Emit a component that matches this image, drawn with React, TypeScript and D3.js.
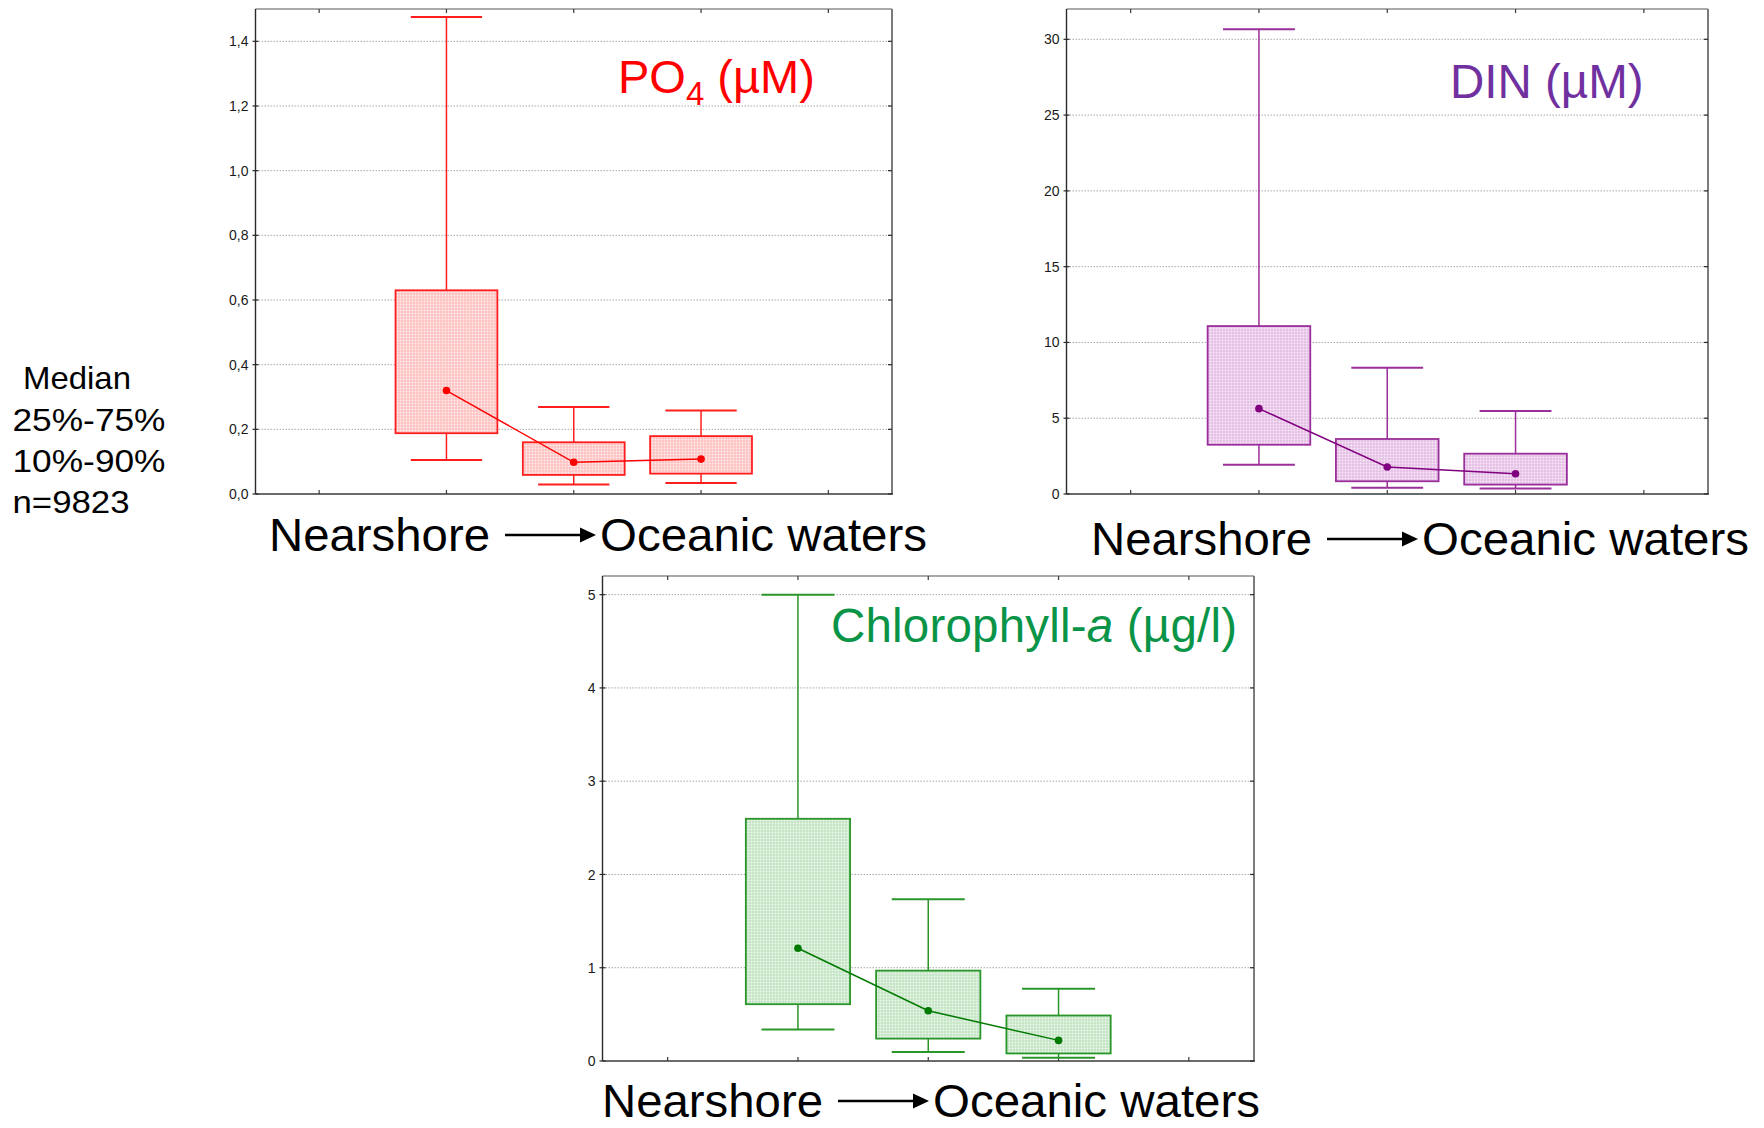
import React from "react";
import * as d3 from "d3";

// Three sampling zones along the nearshore → oceanic gradient
const zones = ["nearshore", "transition", "oceanic"];

// PO4 (µM): 10th, 25th, 50th, 75th, 90th percentiles per zone
const po4P10 = [0.105, 0.029, 0.034];
const po4Q1 = [0.188, 0.059, 0.063];
const po4Median = [0.32, 0.098, 0.108];
const po4Q3 = [0.63, 0.16, 0.179];
const po4P90 = [1.475, 0.269, 0.258];
const po4Ticks = [0, 0.2, 0.4, 0.6, 0.8, 1.0, 1.2, 1.4];

// DIN (µM)
const dinP10 = [1.93, 0.42, 0.37];
const dinQ1 = [3.25, 0.84, 0.62];
const dinMedian = [5.63, 1.78, 1.34];
const dinQ3 = [11.08, 3.63, 2.66];
const dinP90 = [30.66, 8.33, 5.47];
const dinTicks = [0, 5, 10, 15, 20, 25, 30];

// Chlorophyll-a (µg/l)
const chlP10 = [0.337, 0.097, 0.035];
const chlQ1 = [0.609, 0.24, 0.081];
const chlMedian = [1.209, 0.539, 0.221];
const chlQ3 = [2.597, 0.969, 0.488];
const chlP90 = [5.0, 1.733, 0.775];
const chlTicks = [0, 1, 2, 3, 4, 5];

const legendLines = ["Median", "25%-75%", "10%-90%", "n=9823"];
const gradientFrom = "Nearshore";
const gradientTo = "Oceanic waters";

const FONT = "'Liberation Sans', Arial, sans-serif";

const commaLocale = d3.formatLocale({
  decimal: ",",
  thousands: ".",
  grouping: [3],
  currency: ["", ""],
});
const fmtComma1 = commaLocale.format(".1f");
const fmtInt = d3.format("d");

type Frame = { left: number; right: number; top: number; bottom: number };

type PanelProps = {
  id: string;
  frame: Frame;
  yMax: number;
  ticks: number[];
  tickFormat: (v: number) => string;
  p10: number[];
  q1: number[];
  med: number[];
  q3: number[];
  p90: number[];
  stroke: string;
  fillBase: string;
  dotColor: string;
  title: React.ReactNode;
  labelX: number;
  labelY: number;
};

function Panel(props: PanelProps) {
  const { id, frame, yMax, ticks, tickFormat, p10, q1, med, q3, p90, stroke, fillBase, dotColor, title, labelX, labelY } = props;
  const x = d3.scalePoint<string>().domain(zones).range([frame.left, frame.right]).padding(1.5);
  const y = d3.scaleLinear().domain([0, yMax]).range([frame.bottom, frame.top]);
  const step = x.step();
  const tickXs = [
    (x(zones[0]) as number) - step,
    ...zones.map((z) => x(z) as number),
    (x(zones[zones.length - 1]) as number) + step,
  ];
  const boxW = step * 0.8;
  const capW = step * 0.56;
  const medianLine = d3
    .line<number>()
    .x((_, i) => x(zones[i]) as number)
    .y((d) => y(d));
  const patId = `dots-${id}`;
  const arrowY = labelY - 16;

  return (
    <g>
      <defs>
        <pattern id={patId} width={3} height={3} patternUnits="userSpaceOnUse">
          <rect width={3} height={3} fill={fillBase} />
          <circle cx={1.5} cy={1.5} r={0.95} fill="#ffffff" opacity={0.7} />
        </pattern>
      </defs>

      {/* grid */}
      {ticks
        .filter((t) => t > 0)
        .map((t) => (
          <line
            key={`g${t}`}
            x1={frame.left}
            x2={frame.right}
            y1={y(t)}
            y2={y(t)}
            stroke="#a8a8a8"
            strokeWidth={1}
            strokeDasharray="1.5 1.5"
          />
        ))}

      {/* frame */}
      <line x1={frame.left} x2={frame.right} y1={frame.top} y2={frame.top} stroke="#8e8e8e" strokeWidth={1.5} />
      <line x1={frame.right} x2={frame.right} y1={frame.top} y2={frame.bottom} stroke="#7c7c7c" strokeWidth={2} />
      <line x1={frame.left} x2={frame.left} y1={frame.top} y2={frame.bottom} stroke="#2a2a2a" strokeWidth={1.4} />
      <line x1={frame.left} x2={frame.right + 1} y1={frame.bottom} y2={frame.bottom} stroke="#3a3a3a" strokeWidth={1.6} />

      {/* y ticks and labels */}
      {ticks.map((t) => (
        <g key={`t${t}`}>
          <line x1={frame.left - 3} x2={frame.left + 3} y1={y(t)} y2={y(t)} stroke="#2a2a2a" strokeWidth={1.2} />
          <line x1={frame.right - 4} x2={frame.right} y1={y(t)} y2={y(t)} stroke="#2a2a2a" strokeWidth={1.2} />
          <text
            x={frame.left - 7}
            y={y(t)}
            dy="0.36em"
            textAnchor="end"
            fontFamily={FONT}
            fontSize={14}
            fill="#1a1a1a"
          >
            {tickFormat(t)}
          </text>
        </g>
      ))}

      {/* x ticks (top and bottom, inward) */}
      {tickXs.map((tx, i) => (
        <g key={`x${i}`}>
          <line x1={tx} x2={tx} y1={frame.bottom} y2={frame.bottom - 4} stroke="#3a3a3a" strokeWidth={1.2} />
          <line x1={tx} x2={tx} y1={frame.top} y2={frame.top + 4} stroke="#3a3a3a" strokeWidth={1.2} />
        </g>
      ))}

      {/* boxes and whiskers */}
      {zones.map((z, i) => {
        const cx = x(z) as number;
        return (
          <g key={z}>
            <line x1={cx} x2={cx} y1={y(q3[i])} y2={y(p90[i])} stroke={stroke} strokeWidth={1.5} />
            <line x1={cx} x2={cx} y1={y(q1[i])} y2={y(p10[i])} stroke={stroke} strokeWidth={1.5} />
            <line x1={cx - capW / 2} x2={cx + capW / 2} y1={y(p90[i])} y2={y(p90[i])} stroke={stroke} strokeWidth={2} />
            <line x1={cx - capW / 2} x2={cx + capW / 2} y1={y(p10[i])} y2={y(p10[i])} stroke={stroke} strokeWidth={2} />
            <rect
              x={cx - boxW / 2}
              y={y(q3[i])}
              width={boxW}
              height={y(q1[i]) - y(q3[i])}
              fill={`url(#${patId})`}
              stroke={stroke}
              strokeWidth={1.8}
            />
          </g>
        );
      })}

      {/* medians */}
      <path d={medianLine(med) || ""} fill="none" stroke={dotColor} strokeWidth={1.5} />
      {zones.map((z, i) => (
        <circle key={`m${z}`} cx={x(z) as number} cy={y(med[i])} r={3.8} fill={dotColor} />
      ))}

      {title}

      {/* gradient label */}
      <g fontFamily={FONT} fontSize={46.5} fill="#000">
        <text x={labelX} y={labelY} textLength={221} lengthAdjust="spacingAndGlyphs">
          {gradientFrom}
        </text>
        <line x1={labelX + 236} x2={labelX + 314} y1={arrowY} y2={arrowY} stroke="#000" strokeWidth={2.4} />
        <polygon
          points={`${labelX + 311},${arrowY - 7.5} ${labelX + 327},${arrowY} ${labelX + 311},${arrowY + 7.5}`}
          fill="#000"
        />
        <text x={labelX + 331} y={labelY} textLength={327} lengthAdjust="spacingAndGlyphs">
          {gradientTo}
        </text>
      </g>
    </g>
  );
}

export default function App() {
  const legendBaselines = [389, 431, 472, 513];
  const legendWidths = [108, 153, 153, 117];
  const legendX = [23, 12.5, 12.5, 12.5];

  return (
    <div style={{ position: "absolute", left: 0, top: 0 }}>
      <svg width={1764} height={1128} style={{ display: "block", background: "#fff" }}>
        <rect width={1764} height={1128} fill="#fff" />

        <Panel
          id="po4"
          frame={{ left: 255.5, right: 892, top: 9, bottom: 494 }}
          yMax={1.5}
          ticks={po4Ticks}
          tickFormat={fmtComma1}
          p10={po4P10}
          q1={po4Q1}
          med={po4Median}
          q3={po4Q3}
          p90={po4P90}
          stroke="#ff1e1e"
          fillBase="#ffc2c2"
          dotColor="#ff0000"
          labelX={269}
          labelY={551}
          title={
            <text x={618} y={93} fontFamily={FONT} fontSize={47} fill="#ff0000">
              PO
              <tspan dy={12} fontSize={33}>
                4
              </tspan>
              <tspan dy={-12}> (µM)</tspan>
            </text>
          }
        />

        <Panel
          id="din"
          frame={{ left: 1066.5, right: 1708, top: 9, bottom: 494 }}
          yMax={32}
          ticks={dinTicks}
          tickFormat={fmtInt}
          p10={dinP10}
          q1={dinQ1}
          med={dinMedian}
          q3={dinQ3}
          p90={dinP90}
          stroke="#9a2e9a"
          fillBase="#e6bfe6"
          dotColor="#800080"
          labelX={1091}
          labelY={555}
          title={
            <text x={1450} y={97.5} fontFamily={FONT} fontSize={47.5} fill="#7030a0">
              DIN (µM)
            </text>
          }
        />

        <Panel
          id="chl"
          frame={{ left: 602.5, right: 1254, top: 576, bottom: 1061 }}
          yMax={5.2}
          ticks={chlTicks}
          tickFormat={fmtInt}
          p10={chlP10}
          q1={chlQ1}
          med={chlMedian}
          q3={chlQ3}
          p90={chlP90}
          stroke="#2a962a"
          fillBase="#c4e4c4"
          dotColor="#007a00"
          labelX={602}
          labelY={1117}
          title={
            <text x={831} y={642} fontFamily={FONT} fontSize={47.5} fill="#0a9447" textLength={406}>
              Chlorophyll-<tspan fontStyle="italic">a</tspan> (µg/l)
            </text>
          }
        />

        {/* legend */}
        <g fontFamily={FONT} fontSize={32} fill="#000">
          {legendLines.map((t, i) => (
            <text
              key={t}
              x={legendX[i]}
              y={legendBaselines[i]}
              textLength={legendWidths[i]}
              lengthAdjust="spacingAndGlyphs"
            >
              {t}
            </text>
          ))}
        </g>
      </svg>
    </div>
  );
}
